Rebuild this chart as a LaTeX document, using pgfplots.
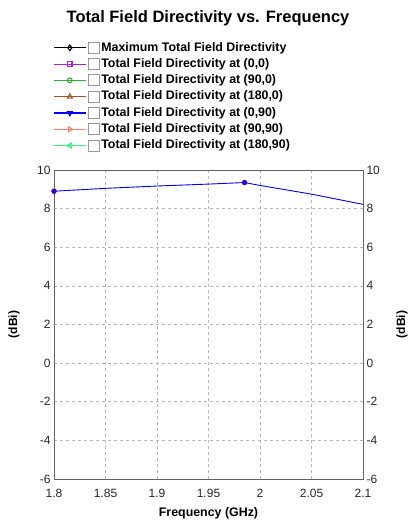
\documentclass[border=0pt]{standalone}
\usepackage{pgfplots}
\pgfplotsset{compat=1.18}
\usepackage{fontspec}
\setmainfont{Liberation Sans}
\usetikzlibrary{plotmarks}

\definecolor{cMax}{RGB}{0,0,0}
\definecolor{cA}{RGB}{176,32,208}
\definecolor{cB}{RGB}{48,176,48}
\definecolor{cC}{RGB}{160,82,45}
\definecolor{cD}{RGB}{0,0,255}
\definecolor{cE}{RGB}{255,128,112}
\definecolor{cF}{RGB}{64,240,128}
\definecolor{cMark}{RGB}{60,0,200}
\definecolor{frame}{RGB}{100,100,100}

\pgfplotstableread{
f      d
1.800  8.90
1.850  9.05
1.900  9.17
1.950  9.27
1.985  9.35
2.000  9.20
2.050  8.75
2.100  8.22
}\dataD

\pgfplotsset{
  boxlegend/.style={
    legend image code/.code={
      \draw[##1,line width=1.1pt,mark repeat=2,mark phase=2] plot coordinates {(0pt,0pt) (16pt,0pt) (32pt,0pt)};
      \draw[gray!80,fill=white,solid,line width=1pt] (35pt,-5.5pt) rectangle (46pt,5.5pt);
    }
  },
  common/.style={
    at={(54pt,47pt)}, anchor=south west,
    scale only axis, width=309pt, height=309pt,
    xmin=1.8, xmax=2.1, ymin=-6, ymax=10,
    ytick={-6,-4,...,10},
    xtick={1.8,1.85,1.9,1.95,2,2.05,2.1},
    xticklabels={1.8,1.85,1.9,1.95,2,2.05,2.1},
    tick style={draw=none},
    tick label style={font=\fontsize{12}{14}\selectfont, text=black!85},
    /pgf/number format/assume math mode=true,
    axis line style={draw=frame, line width=0.9pt},
  }
}

\begin{document}
\begin{tikzpicture}
\path[use as bounding box] (0,0) rectangle (409pt,526pt);
\node[font=\fontsize{16.5}{19}\selectfont\bfseries] at (208pt,508pt) {Total Field Directivity vs. Frequency};

\begin{axis}[common, boxlegend,
  grid=major,
  grid style={gray!55, dash pattern=on 3pt off 3pt, line width=0.6pt},
  ylabel={(dBi)},
  ylabel style={at={(axis description cs:-0.129,0.5)}, anchor=center, font=\fontsize{12}{14}\selectfont\bfseries},
  xlabel={Frequency (GHz)},
  xlabel style={at={(axis description cs:0.5,-0.112)}, anchor=center, font=\fontsize{12.4}{14}\selectfont\bfseries},
  xticklabel style={yshift=-7pt},
  legend style={at={(axis description cs:-0.003,1.418)}, anchor=north west,
    draw=none, fill=none, row sep=2.8pt, inner sep=0pt,
    font=\fontsize{12.4}{14}\selectfont\bfseries,
    nodes={inner sep=1pt, text height=9pt, text depth=2.5pt},
    cells={anchor=west}},
  legend cell align=left,
]
\addlegendimage{cMax, mark=diamond, mark options={fill=white, mark size=2.8pt}}
\addlegendentry{Maximum Total Field Directivity}
\addlegendimage{cA, mark=square, mark options={fill=white, mark size=2.2pt}}
\addlegendentry{Total Field Directivity at (0,0)}
\addlegendimage{cB, mark=o, mark options={fill=white, mark size=2.4pt}}
\addlegendentry{Total Field Directivity at (90,0)}
\addlegendimage{cC, mark=triangle, mark options={fill=white, mark size=2.8pt}}
\addlegendentry{Total Field Directivity at (180,0)}
\addlegendimage{cD, mark=triangle, mark options={rotate=180, fill=white, mark size=2.8pt}}
\addlegendentry{Total Field Directivity at (0,90)}
\addlegendimage{cE, mark=triangle, mark options={rotate=-90, fill=white, mark size=2.8pt}}
\addlegendentry{Total Field Directivity at (90,90)}
\addlegendimage{cF, mark=triangle, mark options={rotate=90, fill=white, mark size=2.8pt}}
\addlegendentry{Total Field Directivity at (180,90)}

\addplot[cD, line width=0.9pt, no marks, forget plot] table[x=f, y=d] {\dataD};
\addplot[cMark, only marks, mark=*, mark size=2.5pt, forget plot] coordinates {(1.8,8.90) (1.985,9.35)};
\end{axis}

\begin{axis}[common,
  axis x line=none, axis y line*=right,
  ylabel={(dBi)},
  ylabel style={at={(axis description cs:1.126,0.5)}, anchor=center, rotate=0, font=\fontsize{12}{14}\selectfont\bfseries},
]
\addplot[draw=none, forget plot] coordinates {(1.8,0)};
\end{axis}
\end{tikzpicture}
\end{document}
